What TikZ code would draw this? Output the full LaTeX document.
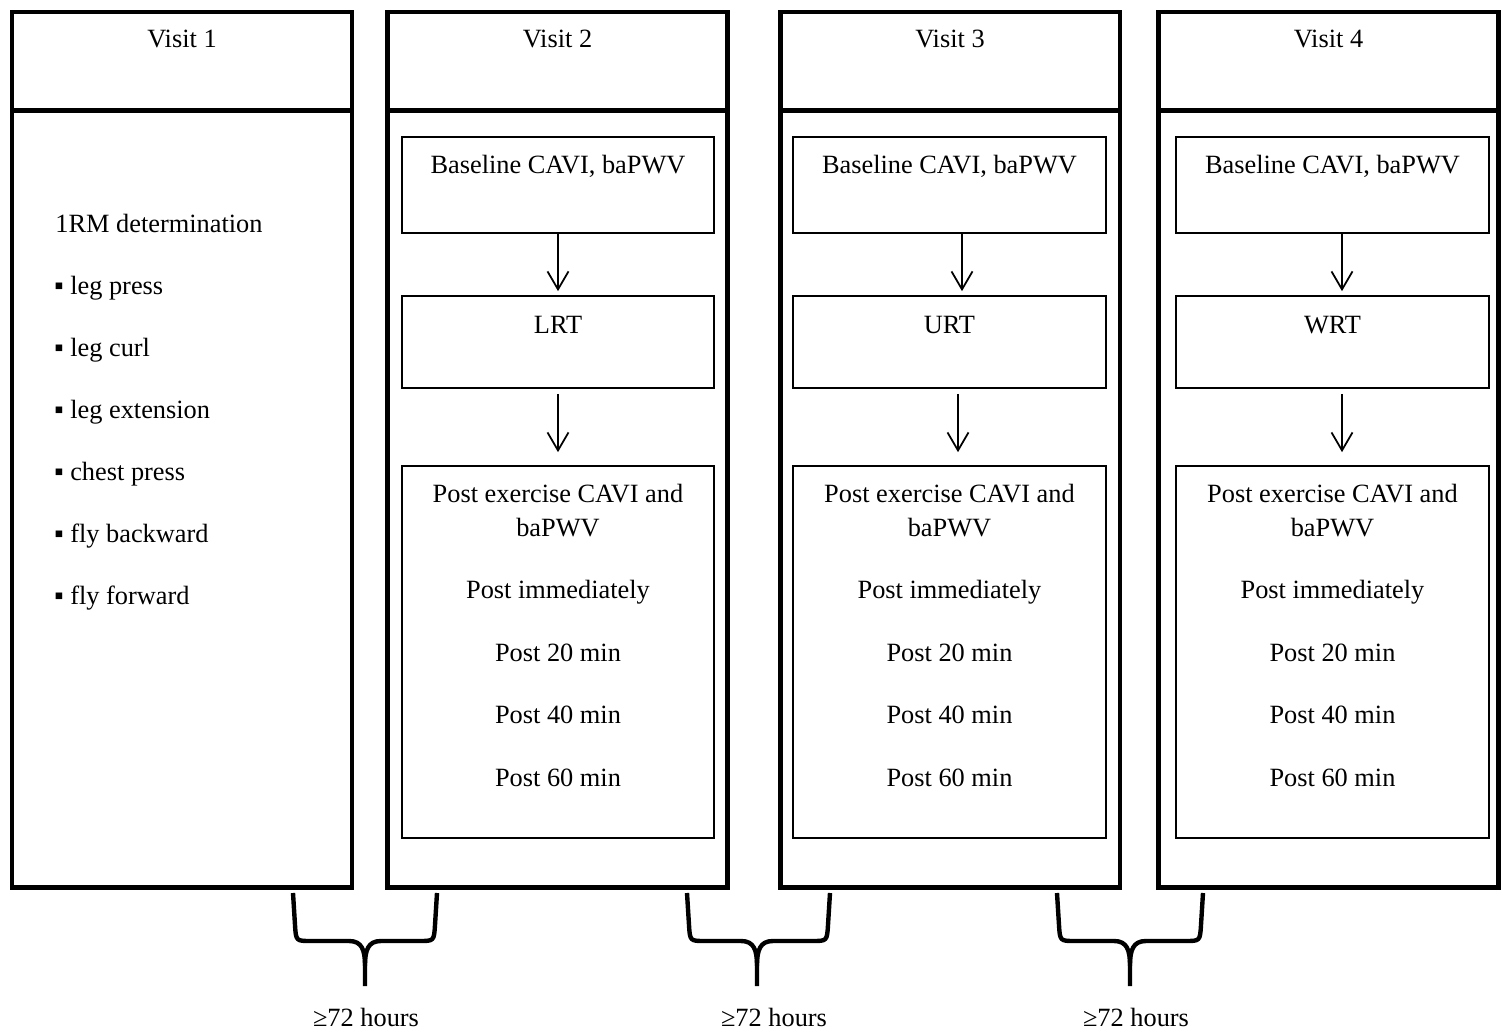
\documentclass[tikz,border=0pt]{standalone}
\usepackage{fontspec}
\setmainfont{Liberation Serif}
\usetikzlibrary{arrows.meta}

\tikzset{
  visitbox/.style={draw, line width=2.8pt, minimum width=6.8cm, inner sep=0pt},
  stagebox/.style={draw, line width=1pt, minimum width=6.25cm, inner sep=0pt},
  txt/.style={anchor=base, inner sep=0pt, font=\fontsize{15}{18}\selectfont},
  flow/.style={line width=1pt, -{Straight Barb[length=0.36cm,width=0.42cm]}},
  gap/.style={line width=2.5pt, line join=round},
}

\begin{document}
\begin{tikzpicture}[x=0.02cm, y=-0.02cm]
\useasboundingbox (0,0) rectangle (1508,1031);

% the four visits: header and body
\foreach \cx/\n in {182/1, 557.5/2, 950/3, 1328.5/4}{
	\node[visitbox, minimum height=1.96cm] (head\n) at (\cx,61) {};
	\node[visitbox, minimum height=15.56cm] (body\n) at (\cx,499) {};
	\node[txt] (vlab\n) at (\cx,48) {Visit \n};
}

% visit 1: 1RM tests
\node[txt, anchor=base west] (rm) at (55,232) {1RM determination};
\foreach \t [count=\i] in {leg press, leg curl, leg extension, chest press, fly backward, fly forward}{
	\node[txt, anchor=base west] (rm\i) at (54,232+62*\i) {▪ \t};
}

% visits 2-4: baseline, exercise, post measures
\foreach \cx/\n/\ex/\da/\db in {558/2/LRT/0/0, 949.5/3/URT/12.5/8.5, 1332.5/4/WRT/9.5/9.5}{
	\node[stagebox, minimum height=1.92cm] (base\n) at (\cx,185) {};
	\node[stagebox, minimum height=1.84cm] (rt\n) at (\cx,342) {};
	\node[stagebox, minimum height=7.44cm] (post\n) at (\cx,652) {};
	\node[txt] (basetxt\n) at (\cx,173) {Baseline CAVI, baPWV};
	\node[txt] (rttxt\n) at (\cx,333) {\ex};
	\foreach \t/\yb in {Post exercise CAVI and/502, baPWV/536, Post immediately/598, Post 20 min/661, Post 40 min/723, Post 60 min/786}{
		\node[txt] at (\cx,\yb) {\t};
	}
	\draw[flow, shorten >=0.08cm] ([xshift=\da*0.02cm]base\n.south) -- ([xshift=\da*0.02cm]rt\n.north);
	\draw[flow, shorten <=0.1cm, shorten >=0.26cm] ([xshift=\db*0.02cm]rt\n.south) -- ([xshift=\db*0.02cm]post\n.north);
}

% braces between visits
\foreach \l/\m/\r/\lx/\i in {293/365/437/366/1, 687/757/830/774/2, 1057/1130/1203/1136/3}{
	\coordinate (tip\i) at (\m,986);
	\draw[gap] (\l,893) -- (\l+2,925) .. controls (\l+3,941) .. (\l+18,941) -- (\m-16,941) .. controls (\m-3,941) and (\m,950) .. (\m,966) -- (tip\i);
	\draw[gap] (\r,893) -- (\r-2,925) .. controls (\r-3,941) .. (\r-18,941) -- (\m+16,941) .. controls (\m+3,941) and (\m,950) .. (\m,966);
	\node[txt] (wait\i) at (\lx,1026) {≥72 hours};
}

\end{tikzpicture}
\end{document}
